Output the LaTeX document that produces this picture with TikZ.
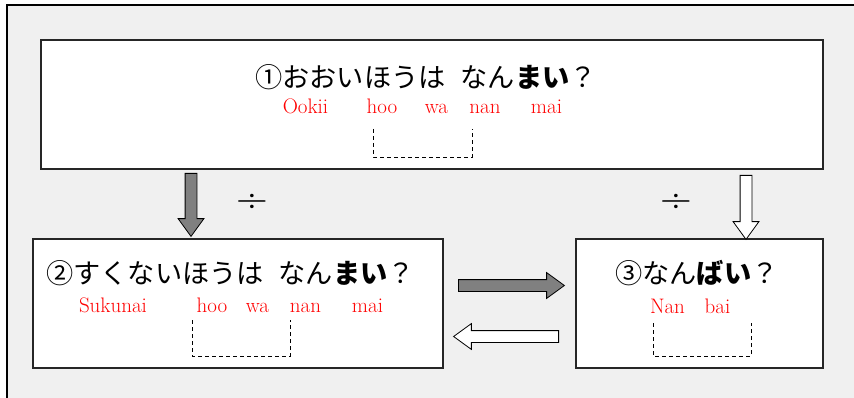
\documentclass[tikz,border=0pt]{standalone}
\usepackage{fontspec}
\newfontfamily\jp{Noto Sans CJK JP}
\usetikzlibrary{shapes.arrows}
\definecolor{panelgray}{HTML}{F0F0F0}
\tikzset{
  box/.style={draw=black!85, line width=1.1pt, fill=white, inner sep=0},
  question/.style={anchor=base west, inner sep=0, font=\jp\fontsize{27.2}{30}\selectfont},
  reading/.style={anchor=base, inner sep=0, text=red, font=\fontsize{21}{24}\selectfont},
  answer/.style={dashed, line width=0.9pt, dash pattern=on 4pt off 3pt},
  divsign/.style={inner sep=0, font=\fontsize{44}{44}\selectfont},
  blockarrow/.style={single arrow, draw=black, line width=0.8pt, inner xsep=0, inner ysep=5.5pt, single arrow head extend=7pt, single arrow tip angle=72, anchor=tail}
}
\begin{document}
\begin{tikzpicture}[x=1pt,y=-1pt]
  \useasboundingbox (0,0) rectangle (854,398);
  \clip (0,0) rectangle (854,398);
  \draw[line width=1.3pt, fill=panelgray] (7,5) rectangle (880,420); % outer frame

  % the three questions
  \node[box, minimum width=782, minimum height=129] (q1) at (432,104.5) {};
  \node[box, minimum width=410, minimum height=129] (q2) at (238,303.5) {};
  \node[box, minimum width=247, minimum height=129] (q3) at (699.5,303.5) {};

  \node[question] (t1) at (255,88) {①おおいほうは\hspace{15pt}なん{\bfseries まい}？};
  \node[question] (t2) at (46,283) {②すくないほうは\hspace{15pt}なん{\bfseries まい}？};
  \node[question] (t3) at (615,283) {③なん{\bfseries ばい}？};

  % readings
  \foreach \w/\x in {Ookii/305.5, hoo/382, wa/436.5, nan/485, mai/546.5}
    \node[reading] at (\x,113.5) {\w};
  \foreach \w/\x in {Sukunai/113, hoo/212, wa/257.5, nan/305.5, mai/367.5}
    \node[reading] at (\x,312) {\w};
  \foreach \w/\x in {Nan/667.5, bai/717.5}
    \node[reading] at (\x,313) {\w};

  % answer slots
  \draw[answer] (373,129) -- (373,157) -- (472,157) -- (472,129);
  \draw[answer] (192,320) -- (192,356) -- (290,356) -- (290,320);
  \draw[answer] (653,323) -- (653,356) -- (751,356) -- (751,323);

  % arrows
  \node[blockarrow, fill=gray, minimum height=63, rotate=-90] (a12) at (191,173) {};
  \node[blockarrow, fill=white, minimum height=64, rotate=-90] (a13) at (746,175) {};
  \node[blockarrow, fill=gray, minimum height=106] (a23) at (458,285.5) {};
  \node[blockarrow, fill=white, minimum height=105, rotate=180] (a32) at (559,336.5) {};

  \node[divsign] (d12) at (252,203) {÷};
  \node[divsign] (d13) at (676,203) {÷};
\end{tikzpicture}
\end{document}
